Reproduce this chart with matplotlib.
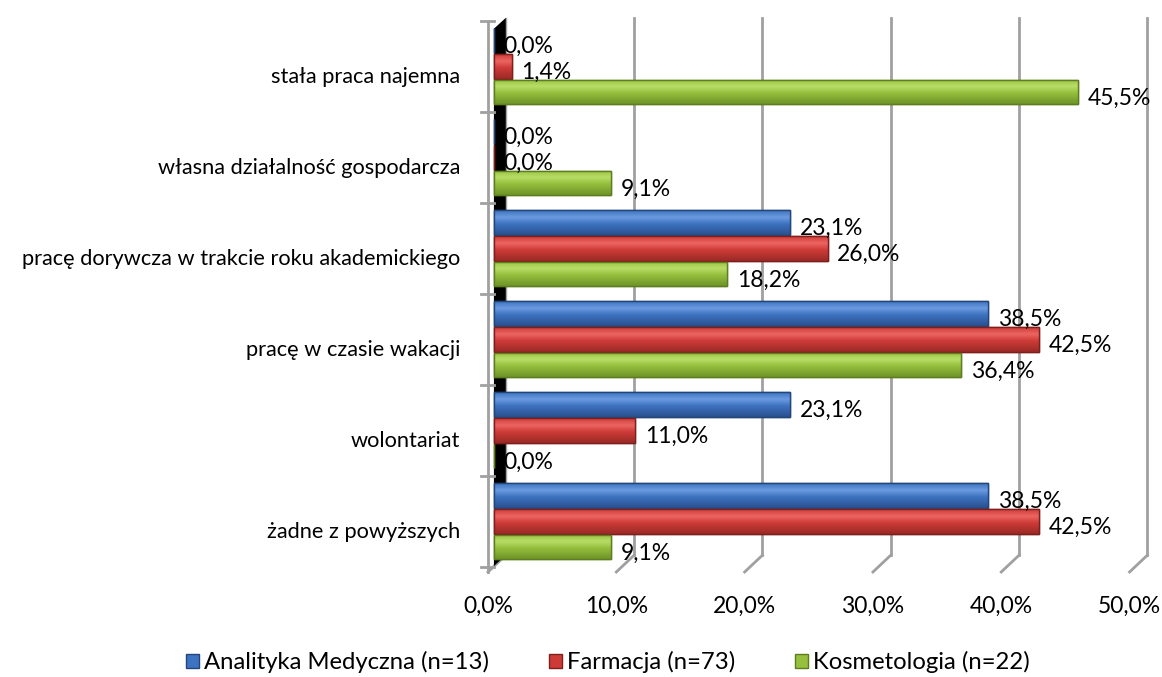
import matplotlib
matplotlib.use("Agg")
import matplotlib.pyplot as plt
from matplotlib.patches import Patch
from matplotlib.colors import LinearSegmentedColormap
import numpy as np

plt.rcParams["font.family"] = ["Lato", "DejaVu Sans"]

categories = [
    "stała praca najemna",
    "własna działalność gospodarcza",
    "pracę dorywcza w trakcie roku akademickiego",
    "pracę w czasie wakacji",
    "wolontariat",
    "żadne z powyższych",
]
series_names = [
    "Analityka Medyczna (n=13)",
    "Farmacja (n=73)",
    "Kosmetologia (n=22)",
]
analityka = [0.0, 0.0, 23.1, 38.5, 23.1, 38.5]
farmacja = [1.4, 0.0, 26.0, 42.5, 11.0, 42.5]
kosmetologia = [45.5, 9.1, 18.2, 36.4, 0.0, 9.1]
x_ticks = [0, 10, 20, 30, 40, 50]

colors = ["#3D73C0", "#CE3B37", "#96C03E"]
edges = ["#23467A", "#7E1F1C", "#5E7D1F"]
lights = ["#6C9BE0", "#EC6662", "#B9DE68"]
darks = ["#2A5090", "#9A2A27", "#6E9428"]
grid_c = "#A0A0A0"

fig = plt.figure(figsize=(11.62, 6.77), dpi=100)
ax = fig.add_axes([0.41997, 0.1625, 0.5572, 0.8065])

n = len(categories)
y = np.arange(n)[::-1].astype(float)
step = 0.285
bar_h = 0.265
offsets = [step, 0.0, -step]

back_dx = 0.93    # back wall offset (data units)
front_dx = -0.46  # floor front edge offset
y_top = n - 0.5 + 0.035
y_knee = -0.37
y_floor = -0.555

# gridlines with slanted floor ends
for t in x_ticks:
    ax.plot([t + back_dx, t + back_dx], [y_top, y_knee], color=grid_c,
            lw=2 if t else 1, zorder=1, clip_on=False)
    ax.plot([t + back_dx, t + front_dx], [y_knee, y_floor], color=grid_c,
            lw=2, zorder=1, clip_on=False)

# left wall
ax.plot([front_dx, front_dx], [y_top - 0.05, y_floor], color=grid_c,
        lw=2, clip_on=False, zorder=2)
ax.fill([0.0, back_dx, back_dx, 0.0], [y_knee - 0.12, y_knee, y_top, y_top - 0.12],
        color="black", zorder=2, lw=0, clip_on=False)
for b in np.arange(-0.5, n, 1.0):
    ax.plot([front_dx - 0.55, 0.0], [b, b], color=grid_c, lw=2,
            clip_on=False, zorder=2)

ax.set_xlim(0, 50)
ax.set_ylim(-0.5, n - 0.5)

for i, vals in enumerate([analityka, farmacja, kosmetologia]):
    yy = y + offsets[i]
    cmap = LinearSegmentedColormap.from_list(
        f"g{i}", [(0.0, darks[i]), (0.45, colors[i]), (0.72, lights[i]),
                  (1.0, colors[i])])
    grad = np.linspace(0, 1, 64).reshape(-1, 1)
    bars = ax.barh(yy, vals, height=bar_h, color=colors[i],
                   edgecolor=edges[i], linewidth=1.0, zorder=3)
    for bar, v, yc in zip(bars, vals, yy):
        if v > 0:
            im = ax.imshow(grad, cmap=cmap, aspect="auto", origin="lower",
                           extent=[0, v, yc - bar_h / 2, yc + bar_h / 2],
                           zorder=3.5, interpolation="bicubic")
            im.set_clip_path(bar)
        ax.annotate(f"{v:.1f}%".replace(".", ","), (v, yc),
                    xytext=(7, -4.5), textcoords="offset points",
                    ha="left", va="center", fontsize=16.5, color="black",
                    zorder=6)
    # outline on top of gradient
    ax.barh(yy, vals, height=bar_h, fill=False, edgecolor=edges[i],
            linewidth=1.0, zorder=4)

ax.set_xlim(0, 50)
ax.set_ylim(-0.5, n - 0.5)

for s in ax.spines.values():
    s.set_visible(False)

ax.set_yticks(y - 0.09)
ax.set_yticklabels(categories, fontsize=15.7)
ax.tick_params(axis="y", length=0, pad=20)
ax.set_xticks([t + front_dx for t in x_ticks])
ax.set_xticklabels([f"{t:.1f}%".replace(".", ",") for t in x_ticks],
                   fontsize=16.5)
ax.tick_params(axis="x", length=0, pad=21)

handles = [Patch(facecolor=colors[i], edgecolor=edges[i]) for i in range(3)]
fig.legend(handles, series_names, loc="center", ncol=3,
           bbox_to_anchor=(0.523, 0.022), frameon=False, fontsize=17.2,
           handlelength=0.55, handleheight=0.55, handletextpad=0.2,
           columnspacing=2.5, borderpad=0)

fig.savefig("out.png", dpi=100)
